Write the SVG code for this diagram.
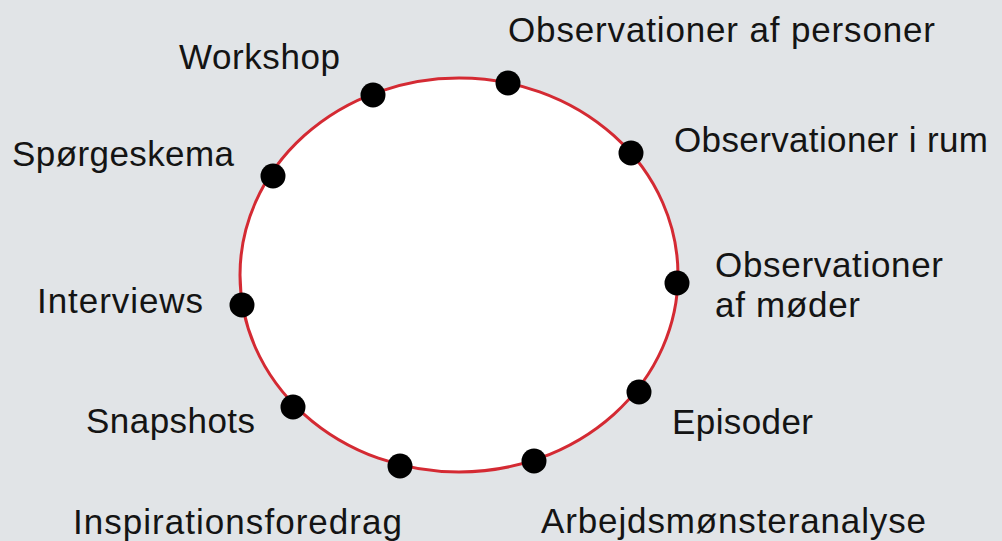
<svg xmlns="http://www.w3.org/2000/svg" width="1002" height="541" viewBox="0 0 1002 541">
<style>
.lbl{font-family:"Liberation Sans","DejaVu Sans",sans-serif;font-size:35px;fill:#141414}
.dot{fill:#000}
.ring{fill:#fff;stroke:#d42a33;stroke-width:3}
</style>
<rect width="1002" height="541" fill="#e1e4e7"/>
<g id="connectors">
<ellipse class="ring" cx="459" cy="275" rx="219" ry="197"/>
</g>
<g id="node-workshop"><circle class="dot" cx="373" cy="95" r="12.5"/><text class="lbl" x="179" y="69" textLength="161" lengthAdjust="spacing">Workshop</text></g>
<g id="node-obs-personer"><circle class="dot" cx="508" cy="83" r="12.5"/><text class="lbl" x="508" y="42" textLength="427" lengthAdjust="spacing">Observationer af personer</text></g>
<g id="node-obs-rum"><circle class="dot" cx="631" cy="153" r="12.5"/><text class="lbl" x="674" y="152" textLength="314" lengthAdjust="spacing">Observationer i rum</text></g>
<g id="node-obs-moeder"><circle class="dot" cx="677" cy="283" r="12.5"/><text class="lbl" x="715" y="277" textLength="228" lengthAdjust="spacing">Observationer</text><text class="lbl" x="715" y="317" textLength="145" lengthAdjust="spacing">af møder</text></g>
<g id="node-episoder"><circle class="dot" cx="639" cy="392" r="12.5"/><text class="lbl" x="672" y="434" textLength="141" lengthAdjust="spacing">Episoder</text></g>
<g id="node-arbejd"><circle class="dot" cx="534" cy="461" r="12.5"/><text class="lbl" x="541" y="533" textLength="385" lengthAdjust="spacing">Arbejdsmønsteranalyse</text></g>
<g id="node-inspiration"><circle class="dot" cx="400" cy="466" r="12.5"/><text class="lbl" x="73" y="534" textLength="329" lengthAdjust="spacing">Inspirationsforedrag</text></g>
<g id="node-snapshots"><circle class="dot" cx="293" cy="407" r="12.5"/><text class="lbl" x="86" y="433" textLength="169" lengthAdjust="spacing">Snapshots</text></g>
<g id="node-interviews"><circle class="dot" cx="242" cy="305" r="12.5"/><text class="lbl" x="37" y="313" textLength="166" lengthAdjust="spacing">Interviews</text></g>
<g id="node-spoergeskema"><circle class="dot" cx="273" cy="176" r="12.5"/><text class="lbl" x="12" y="166" textLength="222" lengthAdjust="spacing">Spørgeskema</text></g>
</svg>
